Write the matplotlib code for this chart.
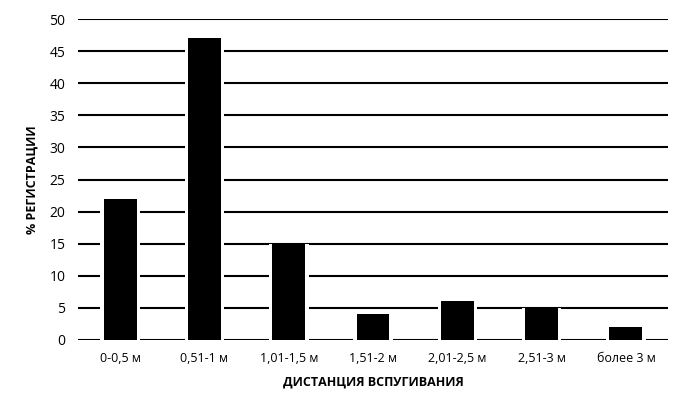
import numpy as np
import matplotlib.pyplot as plt

categories = ["0-0,5 м", "0,51-1 м", "1,01-1,5 м", "1,51-2 м", "2,01-2,5 м", "2,51-3 м", "более 3 м"]
values = [22, 47, 15, 4, 6, 5, 2]
yticks = [0, 5, 10, 15, 20, 25, 30, 35, 40, 45, 50]

plt.rcParams['font.family'] = ['Open Sans', 'DejaVu Sans']

fig = plt.figure(figsize=(6.88, 4.16), dpi=100)
ax = fig.add_axes([0.1134, 0.183, 0.8576, 0.771])

x = np.arange(len(categories))
# white halo so the gridlines stop short of the bars
ax.bar(x, values, width=0.47, color="white", zorder=2)
ax.bar(x, values, width=0.39, color="black", zorder=3)

for v in yticks:
    ax.axhline(v, color="black", lw=1.5, zorder=1)

ax.set_xlim(-0.5, len(categories) - 0.5)
ax.set_ylim(0, 50)
ax.set_yticks(yticks)
ax.set_xticks(x)
ax.set_xticklabels(categories, fontsize=9)
ax.tick_params(axis="y", labelsize=10, length=0, pad=9)
ax.tick_params(axis="x", length=0, pad=9)
for s in ax.spines.values():
    s.set_visible(False)

ax.set_xlabel("ДИСТАНЦИЯ ВСПУГИВАНИЯ", fontsize=9, fontweight="bold", labelpad=7)
ax.set_ylabel("% РЕГИСТРАЦИИ", fontsize=9, fontweight="bold", labelpad=8)

plt.savefig("out.png", dpi=100)
